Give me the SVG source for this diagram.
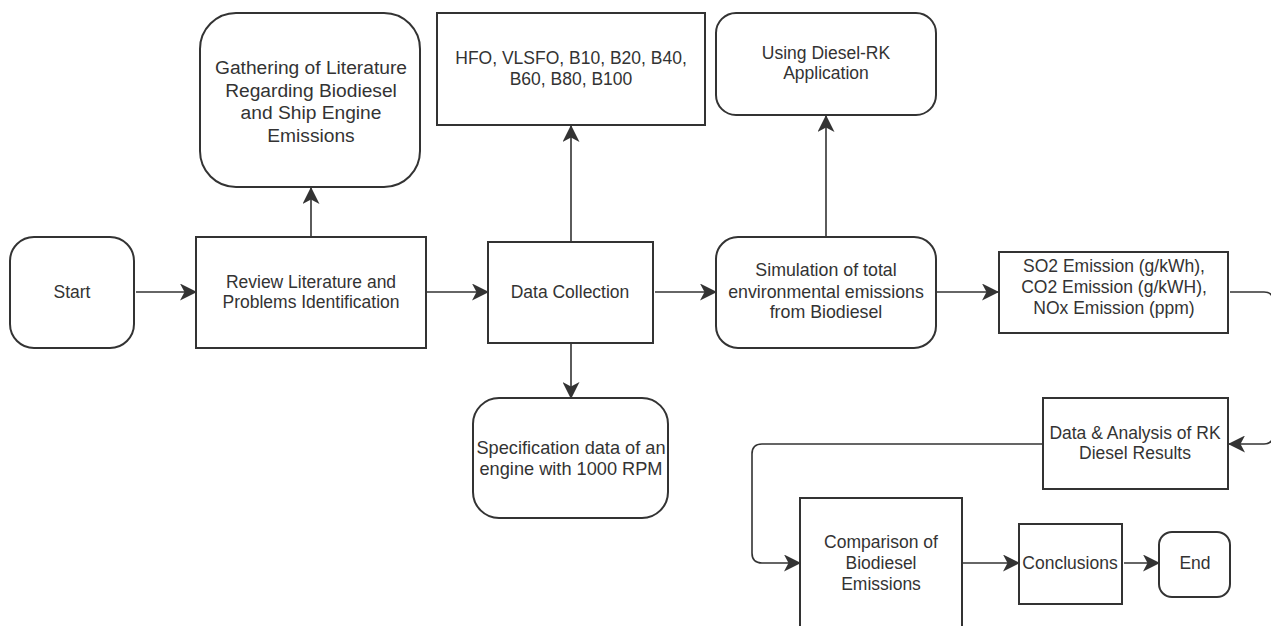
<svg xmlns="http://www.w3.org/2000/svg" width="1271" height="626" viewBox="0 0 1271 626">
<style>
.box{fill:#fff;stroke:#333;stroke-width:2}
.t{font-family:"Liberation Sans",Arial,sans-serif;font-size:17.5px;fill:#333;text-anchor:middle}
.c{fill:none;stroke:#333;stroke-width:1.6}
</style>
<defs>
<marker id="ah" markerUnits="userSpaceOnUse" markerWidth="17" markerHeight="17" viewBox="0 0 17 17" refX="16" refY="8.5" orient="auto">
<path d="M0,0 L17,8.5 L0,17 L4.5,8.5 Z" fill="#333"/>
</marker>
</defs>
<rect width="1271" height="626" fill="#fff"/>
<g id="connectors">
<path class="c" d="M136,292 H196" marker-end="url(#ah)"/>
<path class="c" d="M311,237 V188" marker-end="url(#ah)"/>
<path class="c" d="M426,292 H488" marker-end="url(#ah)"/>
<path class="c" d="M571,242 V126" marker-end="url(#ah)"/>
<path class="c" d="M571,343 V398" marker-end="url(#ah)"/>
<path class="c" d="M655,292 H716" marker-end="url(#ah)"/>
<path class="c" d="M826,237 V116" marker-end="url(#ah)"/>
<path class="c" d="M936,292 H998" marker-end="url(#ah)"/>
<path class="c" d="M1230,292 H1264 Q1273,292 1273,301 V435 Q1273,444 1264,444 H1229" marker-end="url(#ah)"/>
<path class="c" d="M1043,444 H762 Q752,444 752,454 V553 Q752,563 762,563 H800" marker-end="url(#ah)"/>
<path class="c" d="M963,563 H1019" marker-end="url(#ah)"/>
<path class="c" d="M1124,563 H1159" marker-end="url(#ah)"/>
</g>
<g id="start">
<rect class="box" x="10" y="237" width="124" height="111" rx="24"/>
<text class="t" x="72" y="298">Start</text>
</g>
<g id="review">
<rect class="box" x="196" y="237" width="230" height="111"/>
<text class="t" x="311" y="288">Review Literature and</text>
<text class="t" x="311" y="308">Problems Identification</text>
</g>
<g id="gathering">
<rect class="box" x="200" y="13" width="220" height="174" rx="36"/>
<text class="t" x="311" y="74" style="font-size:19.2px">Gathering of Literature</text>
<text class="t" x="311" y="96.5" style="font-size:19.2px">Regarding Biodiesel</text>
<text class="t" x="311" y="119" style="font-size:19.2px">and Ship Engine</text>
<text class="t" x="311" y="142" style="font-size:19.2px">Emissions</text>
</g>
<g id="datacollection">
<rect class="box" x="488" y="242" width="165" height="101"/>
<text class="t" x="570" y="298">Data Collection</text>
</g>
<g id="fuels">
<rect class="box" x="437" y="13" width="268" height="112"/>
<text class="t" x="571" y="64">HFO, VLSFO, B10, B20, B40,</text>
<text class="t" x="571" y="85">B60, B80, B100</text>
</g>
<g id="spec">
<rect class="box" x="473" y="398" width="195" height="120" rx="26"/>
<text class="t" x="571" y="453.5" style="font-size:18.2px">Specification data of an</text>
<text class="t" x="571" y="474.5" style="font-size:18.2px">engine with 1000 RPM</text>
</g>
<g id="dieselrk">
<rect class="box" x="716" y="13" width="220" height="102" rx="20"/>
<text class="t" x="826" y="59">Using Diesel-RK</text>
<text class="t" x="826" y="79">Application</text>
</g>
<g id="simulation">
<rect class="box" x="716" y="237" width="220" height="111" rx="22"/>
<text class="t" x="826" y="276" style="font-size:17.8px">Simulation of total</text>
<text class="t" x="826" y="298" style="font-size:17.8px">environmental emissions</text>
<text class="t" x="826" y="318" style="font-size:17.8px">from Biodiesel</text>
</g>
<g id="emissions">
<rect class="box" x="999" y="252" width="229" height="81"/>
<text class="t" x="1114" y="272">SO2 Emission (g/kWh),</text>
<text class="t" x="1114" y="293">CO2 Emission (g/kWH),</text>
<text class="t" x="1114" y="314">NOx Emission (ppm)</text>
</g>
<g id="analysis">
<rect class="box" x="1043" y="398" width="185" height="91"/>
<text class="t" x="1135" y="439">Data &amp; Analysis of RK</text>
<text class="t" x="1135" y="459">Diesel Results</text>
</g>
<g id="comparison">
<rect class="box" x="800" y="498" width="162" height="145"/>
<text class="t" x="881" y="548">Comparison of</text>
<text class="t" x="881" y="569">Biodiesel</text>
<text class="t" x="881" y="590">Emissions</text>
</g>
<g id="conclusions">
<rect class="box" x="1019" y="524" width="103" height="80"/>
<text class="t" x="1070" y="569">Conclusions</text>
</g>
<g id="end">
<rect class="box" x="1159" y="532" width="71" height="65" rx="13"/>
<text class="t" x="1195" y="569">End</text>
</g>
</svg>
